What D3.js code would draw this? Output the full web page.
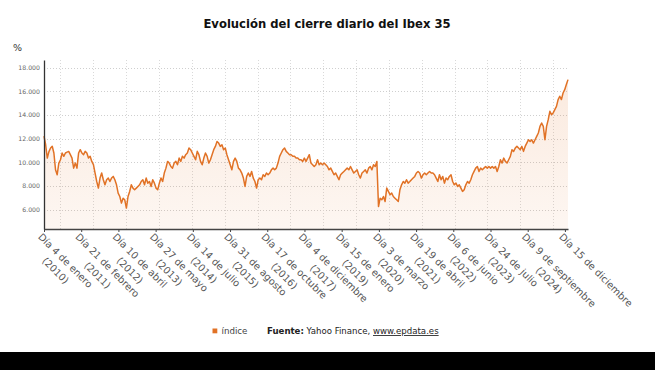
<!DOCTYPE html>
<html>
<head>
<meta charset="utf-8">
<script src="https://cdn.jsdelivr.net/npm/d3@7/dist/d3.min.js"></script>
<style>
body { margin: 0; background: #fff; }
svg { display: block; font-family: "DejaVu Sans", sans-serif; }
</style>
</head>
<body>
<svg id="chart" width="655" height="370"></svg>
<script>
// closing values of the Ibex 35 (evenly spaced in time, 2010 -> dic 2025)
var close2010_2012 = [12200, 11480, 10350, 10900, 11200, 11350, 10780, 9360, 8940, 9930,
	10210, 10780, 10500, 10780, 10850, 10915, 10640, 10350, 9500, 9930,
	9500, 10780, 11060, 10780, 10640, 10920, 10780, 10350, 10500, 10070,
	9790, 9085, 8370, 7810, 8660, 9085, 8520, 8090, 8520, 8660,
	8370, 8660, 8800, 8520, 8090, 7390, 7100, 6540, 6960, 6820,
	6120, 7100, 7530, 8090, 7810, 7670, 7810, 7950, 8090, 8370,
	8520, 8090, 8660, 8230, 8370, 7950, 8520, 8230, 7810, 7670,
	8230, 8660, 8370, 9085, 9500, 10070, 9930, 9640, 9500];
var close2014_2017 = [9930, 10070, 9790, 10350, 10070, 10500, 10350, 10640, 10780, 11200,
	11060, 10780, 10500, 10210, 10920, 10640, 10070, 9790, 10350, 10780,
	10500, 9930, 10210, 10640, 11060, 11340, 11760, 11620, 11340, 11480,
	11060, 11200, 10640, 10210, 9790, 9360, 10070, 10350, 10070, 9500,
	9360, 9085, 8660, 7950, 8800, 9085, 8800, 9220, 8660, 8370,
	7810, 8520, 8660, 8520, 8940, 8800, 9085, 8940, 9085, 9360,
	9500, 9360, 9500, 9930, 10500, 10780, 11060, 11200, 10920, 10780,
	10640, 10640, 10500, 10500, 10350, 10350, 10210, 10210, 10070];
var close2018_2021 = [10350, 10070, 10350, 10640, 9930, 9790, 9640, 9790, 10210, 9790,
	9930, 9790, 9930, 9790, 9640, 9360, 9500, 9220, 8940, 9085,
	8800, 8520, 8940, 9085, 9220, 9360, 9500, 9360, 9640, 9360,
	9085, 9220, 9360, 8940, 8660, 9085, 9220, 9360, 9085, 9500,
	9640, 9360, 9790, 9640, 10070, 6250, 6960, 6820, 7100, 6680,
	7810, 7530, 7250, 7390, 7100, 6960, 6820, 6680, 7670, 8090,
	8370, 8230, 8520, 8230, 8370, 8520, 8660, 8800, 9085, 9220,
	9085, 8660, 8940, 9085, 8940, 9085, 9220, 9085, 9085];
var close2022_2025 = [8940, 8660, 8370, 8940, 8520, 8800, 8230, 8660, 8520, 8800,
	8940, 8370, 8090, 8230, 7950, 8090, 7810, 7530, 7670, 8090,
	8370, 8230, 8520, 8940, 9220, 9500, 9640, 9220, 9500, 9360,
	9500, 9640, 9500, 9640, 9500, 9640, 9500, 9640, 9220, 9640,
	10210, 9930, 10350, 10070, 9930, 10210, 10490, 11060, 10920, 11200,
	11340, 11200, 11060, 11340, 10920, 11340, 11620, 11900, 11760, 11900,
	11620, 11900, 12190, 12470, 13030, 13320, 13030, 11900, 13030, 13600,
	14310, 14030, 14170, 14450, 14730, 15300, 15580, 15300, 15860, 16140,
	16570, 16990];

var closeValues = close2010_2012.concat(close2014_2017, close2018_2021, close2022_2025);

// axis labels (one every 290 sessions)
var labelDays = ['Día 4 de enero', 'Día 21 de febrero', 'Día 10 de abril', 'Día 27 de mayo',
	'Día 14 de julio', 'Día 31 de agosto', 'Día 17 de octubre', 'Día 4 de diciembre',
	'Día 15 de enero', 'Día 3 de marzo', 'Día 19 de abril', 'Día 6 de junio',
	'Día 24 de julio', 'Día 9 de septiembre', 'Día 15 de diciembre'];
var labelYears = ['(2010)', '(2011)', '(2012)', '(2013)', '(2014)', '(2015)', '(2016)',
	'(2017)', '(2019)', '(2020)', '(2021)', '(2022)', '(2023)', '(2024)', ''];
var yTicks = [6000, 8000, 10000, 12000, 14000, 16000, 18000];

var totalDays = 4085,
	labelStep = 290,
	gridStart = 128,
	gridStep = 256;

var orange = '#e17226';

//setup viewport
var svg = d3.select('#chart');
var plotLeft = 44, plotRight = 568, plotTop = 60, plotBottom = 229;

var x = d3.scaleLinear().domain([0, totalDays - 1]).range([plotLeft, plotRight]);
var y = d3.scaleLinear().domain([4350, 18650]).range([plotBottom, plotTop]);

var data = closeValues.map(function(v, i) {
	return {day: i * (totalDays - 1) / (closeValues.length - 1), value: v};
});

var es = d3.formatLocale({decimal: ',', thousands: '.', grouping: [3], currency: ['', '€']});
var fmt = es.format(',d');

svg.append('rect').attr('width', 655).attr('height', 370).attr('fill', '#fff');

//title
svg.append('text')
	.attr('x', 327).attr('y', 28)
	.attr('text-anchor', 'middle')
	.attr('font-size', 11.6).attr('font-weight', 'bold')
	.attr('fill', '#111')
	.text('Evolución del cierre diario del Ibex 35');

svg.append('text')
	.attr('x', 13).attr('y', 51)
	.attr('font-size', 9.5).attr('fill', '#333')
	.text('%');

//gradient for the area
var grad = svg.append('defs').append('linearGradient')
	.attr('id', 'fillGrad')
	.attr('gradientUnits', 'userSpaceOnUse')
	.attr('x1', 0).attr('y1', plotTop).attr('x2', 0).attr('y2', plotBottom);
grad.append('stop').attr('offset', '0%').attr('stop-color', orange).attr('stop-opacity', 0.16);
grad.append('stop').attr('offset', '100%').attr('stop-color', orange).attr('stop-opacity', 0.06);

//grid
var gridDays = d3.range(gridStart, totalDays, gridStep);
svg.append('g').selectAll('line').data(yTicks).enter().append('line')
	.attr('x1', plotLeft).attr('x2', plotRight)
	.attr('y1', function(d) { return Math.round(y(d)) + 0.5; })
	.attr('y2', function(d) { return Math.round(y(d)) + 0.5; })
	.attr('stroke', '#cfcfcf').attr('stroke-width', 1).attr('stroke-dasharray', '1,2');
svg.append('g').selectAll('line').data(gridDays).enter().append('line')
	.attr('x1', function(d) { return Math.round(x(d)) + 0.5; })
	.attr('x2', function(d) { return Math.round(x(d)) + 0.5; })
	.attr('y1', plotTop).attr('y2', plotBottom)
	.attr('stroke', '#d9d9d9').attr('stroke-width', 1).attr('stroke-dasharray', '1,2');

//area + line
var area = d3.area()
	.x(function(d) { return x(d.day); })
	.y0(plotBottom)
	.y1(function(d) { return y(d.value); });
var line = d3.line()
	.x(function(d) { return x(d.day); })
	.y(function(d) { return y(d.value); });

svg.append('path').datum(data).attr('d', area).attr('fill', 'url(#fillGrad)');
svg.append('path').datum(data).attr('d', line)
	.attr('fill', 'none').attr('stroke', orange).attr('stroke-width', 1.5)
	.attr('stroke-linejoin', 'round');

//y axis
var yAxis = svg.append('g')
	.attr('transform', 'translate(' + plotLeft + ',0)')
	.call(d3.axisLeft(y).tickValues(yTicks).tickFormat(fmt).tickSize(0).tickPadding(4).tickSizeOuter(0));
yAxis.select('.domain').attr('stroke', '#333').attr('stroke-width', 1.3);
yAxis.selectAll('text').attr('font-size', 6.2).attr('fill', '#666').attr('font-family', '"DejaVu Sans", sans-serif');

//x axis
var tickDays = labelDays.map(function(d, i) { return i * labelStep; });
var xAxis = svg.append('g')
	.attr('transform', 'translate(0,' + plotBottom + ')')
	.call(d3.axisBottom(x).tickValues(tickDays).tickFormat('').tickSize(3).tickSizeOuter(0));
xAxis.select('.domain').attr('stroke', '#444').attr('stroke-width', 1.3);
xAxis.selectAll('.tick line').attr('stroke', '#444');

var labels = svg.append('g').selectAll('g').data(tickDays).enter().append('g')
	.attr('transform', function(d) { return 'translate(' + (x(d) - 6.5) + ',' + (plotBottom + 8.5) + ') rotate(45)'; });
labels.each(function(d, i) {
	var g = d3.select(this);
	var t1 = g.append('text')
		.attr('font-size', 9.8).attr('fill', '#555')
		.text(labelDays[i]);
	var w = t1.node().getComputedTextLength();
	g.append('text')
		.attr('x', w / 2).attr('y', 14)
		.attr('text-anchor', 'middle')
		.attr('font-size', 9.8).attr('fill', '#555')
		.text(labelYears[i]);
});

//legend + source
svg.append('rect').attr('x', 212.5).attr('y', 328.5).attr('width', 4.8).attr('height', 4.8).attr('fill', orange);
svg.append('text').attr('x', 221.5).attr('y', 334).attr('font-size', 8.7).attr('fill', '#444').text('índice');

var src = svg.append('text').attr('x', 267).attr('y', 334).attr('font-size', 8.6).attr('fill', '#222');
src.append('tspan').attr('font-weight', 'bold').text('Fuente:');
src.append('tspan').text(' Yahoo Finance, ');
src.append('tspan').attr('text-decoration', 'underline').text('www.epdata.es');

svg.append('rect').attr('x', 0).attr('y', 352).attr('width', 655).attr('height', 18).attr('fill', '#000');
</script>
</body>
</html>
